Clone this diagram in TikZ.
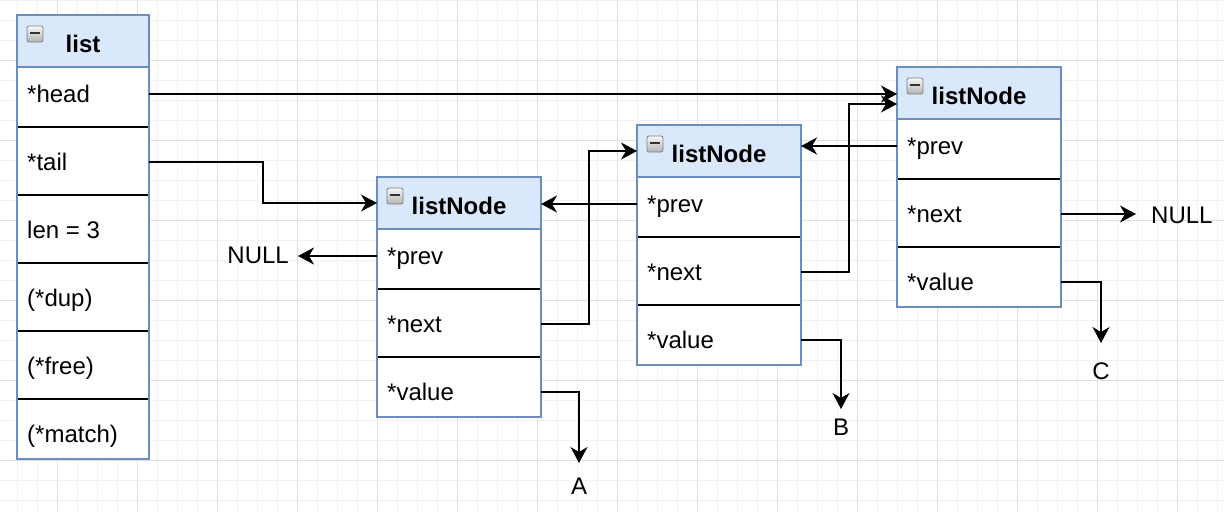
\documentclass[tikz,border=0pt]{standalone}
\usepackage{fontspec}
\setmainfont{Liberation Sans}
\usetikzlibrary{arrows.meta,calc}
\definecolor{bordc}{HTML}{6C8EBF}
\definecolor{hdrc}{HTML}{DAE8FC}
\definecolor{gridminor}{HTML}{F2F2F2}
\definecolor{gridmajor}{HTML}{E0E0E0}
\tikzset{
  conn/.style={line width=1.6pt, -{Stealth[length=16pt,width=17pt,inset=5pt]}},
  sepline/.style={line width=1.6pt, black},
  rowtxt/.style={font=\fontsize{24}{28}\selectfont, inner sep=0pt, anchor=base west},
  ttl/.style={font=\fontsize{24}{28}\selectfont\bfseries, inner sep=0pt, anchor=base},
  lbl/.style={font=\fontsize{24}{28}\selectfont},
  gminor/.style={draw=gridminor, line width=1pt},
  gmajor/.style={draw=gridmajor, line width=1pt},
}
% name, x, y, w, n, title, rows
\newcommand\classbox[7]{%
  \pgfmathsetmacro\hb{#3+52}%
  \pgfmathsetmacro\bt{\hb+120+68*(#5-2)}%
  \pgfmathsetmacro\hh{\bt-#3}%
  \pgfmathtruncatemacro\nm{#5-1}%
  \fill[white] (#2,\hb) rectangle (#2+#4,\bt);
  \node[fill=hdrc, minimum width=#4pt, minimum height=52pt, inner sep=0pt, outer sep=0pt, anchor=north west] (#1-h) at (#2,#3) {};
  \foreach \k in {1,...,\nm} {
    \draw[sepline] (#2,\hb+60+68*\k-68) -- (#2+#4,\hb+60+68*\k-68);
  }
  \node[draw=bordc, line width=2pt, minimum width=#4pt, minimum height=\hh pt, inner sep=0pt, outer sep=0pt, anchor=north west] (#1) at (#2,#3) {};
  \draw[draw=bordc, line width=2pt] (#2,\hb) -- (#2+#4,\hb);
  \shade[top color=black!3, bottom color=black!30, draw=black!50, line width=0.8pt, rounded corners=2pt] (#2+10,#3+11) rectangle ++(16,16);
  \draw[line width=2pt, black!80] (#2+13,#3+18) -- (#2+23,#3+18);
  \node[ttl] (#1-t) at (#2+#4/2,#3+37) {#6};
  \foreach \lab [count=\i] in {#7} {
    \node[rowtxt] (#1-t\i) at (#2+10,\hb+35+68*\i-68) {\lab};
    \coordinate (#1-e\i) at (#2+#4,\hb+27+68*\i-68);
    \coordinate (#1-w\i) at (#2,\hb+27+68*\i-68);
  }
}
\begin{document}
\begin{tikzpicture}[x=1pt,y=-1pt]
\useasboundingbox (0,0) rectangle (1224,512);
\fill[white] (0,0) rectangle (1224,512);
% grid
\foreach \x in {17,37,...,1217} \draw[gminor] (\x,0) -- (\x,512);
\foreach \y in {0,20,...,500} \draw[gminor] (0,\y) -- (1224,\y);
\foreach \x in {57,137,...,1177} \draw[gmajor] (\x,0) -- (\x,512);
\foreach \y in {60,140,...,460} \draw[gmajor] (0,\y) -- (1224,\y);

% boxes
\classbox{L}{17}{15}{132}{6}{list}{*head,*tail,len = 3,(*dup),(*free),(*match)}
\classbox{n1}{377}{177}{164}{3}{listNode}{*prev,*next,*value}
\classbox{n2}{637}{125}{164}{3}{listNode}{*prev,*next,*value}
\classbox{n3}{897}{67}{164}{3}{listNode}{*prev,*next,*value}

% labels
\node[lbl, anchor=east, inner xsep=9pt] (null1) at (298,255) {NULL};
\node[lbl, anchor=west, inner xsep=15pt] (null2) at (1136,215) {NULL};
\node[lbl, anchor=north, inner xsep=0pt, inner ysep=15pt] (A) at (579,463) {A};
\node[lbl, anchor=north, inner xsep=0pt, inner ysep=10pt] (B) at (841,409) {B};
\node[lbl, anchor=north, inner xsep=0pt, inner ysep=20pt] (C) at (1101,343) {C};

% connectors
\draw[conn] (L-e1) -- (L-e1 -| n3-h.west);
\draw[conn] (L-e2) -- ++(114,0) |- (n1-h.west);
\draw[conn] (n1-w1) -- (n1-w1 -| null1.east);
\draw[conn] (n1-e2) -- ++(48,0) |- (n2-h.west);
\draw[conn] (n1-e3) -| (A.north);
\draw[conn] (n2-w1) -- (n2-w1 -| n1.east);
\draw[conn] (n2-e2) -- ++(48,0) |- ([yshift=-11pt]n3-h.west);
\draw[conn] (n2-e3) -| (B.north);
\draw[conn] (n3-w1) -- (n3-w1 -| n2.east);
\draw[conn] (n3-e2) -- (n3-e2 -| null2.west);
\draw[conn] (n3-e3) -| (C.north);
\end{tikzpicture}
\end{document}
